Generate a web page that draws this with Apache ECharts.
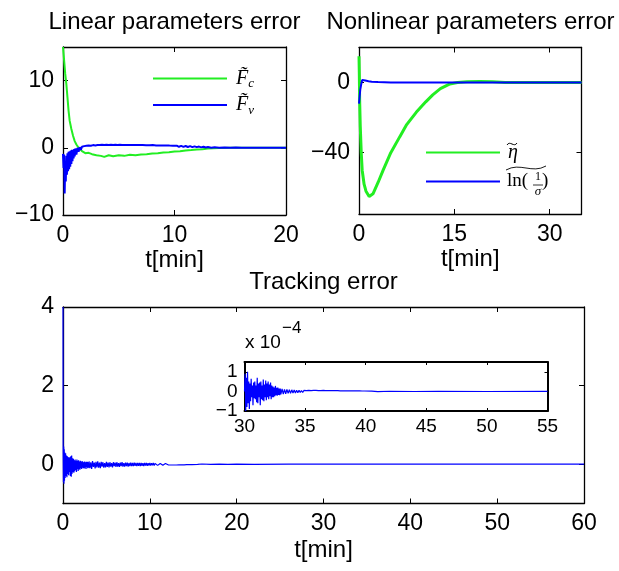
<!DOCTYPE html>
<html>
<head>
<meta charset="utf-8">
<script src="https://cdn.jsdelivr.net/npm/echarts@6.0.0/dist/echarts.min.js"></script>
<style>html,body{margin:0;padding:0;background:#fff}#c{width:619px;height:571px}</style>
</head>
<body>
<div id="c"></div>
<script>
// ---------- data ----------
const titles = ['Linear parameters error', 'Nonlinear parameters error', 'Tracking error'];
const xName = 't[min]';

// tick values
const tlXTicks = [0, 10, 20];
const tlYTicks = [-10, 0, 10];
const trXTicks = [0, 15, 30];
const trYTicks = [-40, 0];
const btXTicks = [0, 10, 20, 30, 40, 50, 60];
const btYTicks = [0, 2, 4];
const inXTicks = [30, 35, 40, 45, 50, 55];
const inYTicks = [-1, 0, 1];

// Linear parameters error: F~c (green)
const Fc = [[0,15],[0.1,13],[0.2,11],[0.3,9.5],[0.4,7.5],[0.5,5.5],[0.6,4],[0.75,2.8],[0.9,1.8],[1.05,1],[1.2,0.5],[1.4,0],
  [1.7,-0.5],[2,-0.8],[2.3,-0.75],[2.6,-0.95],[3,-1.1],[3.4,-1.2],[3.7,-1.35],[4.1,-1.1],[4.5,-1.25],[5,-1.1],[5.5,-1.2],
  [6,-1.05],[6.5,-1.1],[7,-1.0],[7.5,-0.95],[8,-0.85],[8.5,-0.8],[9,-0.7],[9.5,-0.65],[10,-0.55],[10.5,-0.5],[11,-0.4],
  [11.5,-0.33],[12,-0.25],[12.5,-0.2],[13,-0.12],[13.5,-0.08],[14,-0.03],[15,0],[17,0.02],[20,0]];
// F~v (blue)
const Fv = [[0,-0.9],[0.05,-3],[0.1,-1],[0.15,-6.8],[0.2,-2],[0.25,-5],[0.3,-1.2],[0.35,-4],[0.4,-0.8],[0.45,-3.5],
  [0.5,-0.6],[0.55,-3.2],[0.6,-0.5],[0.65,-2.8],[0.7,-0.4],[0.75,-2.4],[0.8,-0.3],[0.85,-2],[0.9,-0.3],[0.95,-1.6],
  [1,-0.2],[1.05,-1.3],[1.1,-0.1],[1.2,-1],[1.3,0],[1.4,-0.6],[1.5,0.1],[1.6,-0.3],[1.7,0.15],[1.8,-0.1],[1.9,0.25],
  [2,0.05],[2.1,0.3],[2.2,0.1],[2.3,0.35],[2.4,0.15],[2.5,0.3],[2.6,0.15],[2.7,0.4],[2.8,0.2],[2.9,0.35],[3,0.2],
  [3.1,0.4],[3.2,0.2],[3.3,0.4],[3.4,0.25],[3.5,0.45],[3.6,0.2],[3.7,0.42],[3.8,0.25],[3.9,0.45],[4,0.22],[4.1,0.42],
  [4.2,0.22],[4.3,0.45],[4.4,0.25],[4.5,0.4],[4.6,0.22],[4.7,0.45],[4.8,0.25],[4.9,0.42],[5,0.22],[5.1,0.45],[5.2,0.25],
  [5.3,0.4],[5.4,0.22],[5.5,0.42],[5.6,0.25],[5.7,0.42],[5.8,0.22],[5.9,0.4],[6,0.22],[6.1,0.42],[6.2,0.25],[6.3,0.4],
  [6.4,0.22],[6.5,0.4],[6.6,0.22],[6.7,0.42],[6.8,0.2],[6.9,0.4],[7,0.22],[7.15,0.4],[7.3,0.22],[7.45,0.38],[7.6,0.2],
  [7.75,0.38],[7.9,0.2],[8.05,0.4],[8.2,0.2],[8.35,0.35],[8.5,0.18],[8.65,0.36],[8.8,0.2],[8.95,0.34],[9.1,0.17],
  [9.25,0.35],[9.4,0.18],[9.55,0.33],[9.7,0.16],[9.85,0.32],[10,0.18],[10.2,0.32],[10.4,0.15],[10.6,0.28],[10.8,0.14],
  [11,0.27],[11.2,0.12],[11.4,0.25],[11.6,0.1],[11.8,0.22],[12,0.1],[12.2,0.18],[12.4,0.06],[12.6,0.16],[12.8,0.05],
  [13,0.12],[13.3,0.02],[13.6,0.08],[14,0.02],[14.5,0.06],[15,0],[15.5,0.04],[16,0],[17,0.02],[20,0]];

// Nonlinear parameters error: eta~ (green)
const eta = [[0,15],[0.05,5],[0.1,-10],[0.2,-25],[0.35,-40],[0.5,-50],[0.8,-58],[1.1,-62],[1.6,-65],[2.2,-63.5],
  [3,-57],[3.8,-50],[5,-40],[6.4,-31],[7.5,-24],[9,-17],[10.5,-11],[11.6,-7],[12.8,-3.5],[14.3,-0.8],[15.5,0],
  [17,0.4],[19,0.6],[21,0.4],[23,0.1],[25,0],[35,0]];
// ln(1/sigma)~ (blue)
const lnSig = [[0,-12],[0.1,-8],[0.2,-4],[0.35,-1],[0.5,1.5],[0.7,2],[1,1.2],[1.5,0.8],[2,0.5],[3,0.3],[4,0.2],
  [5,0.1],[7,0],[35,0]];

// Tracking error (main)
const track = [[0,4],[0.02,0.3],[0.05,-0.45],[0.08,0.45],[0.11,-0.5],[0.14,0.38],[0.17,-0.42],[0.2,0.3],[0.25,-0.35],
  [0.3,0.28],[0.35,-0.3],[0.4,0.22],[0.45,-0.33],[0.5,0.2],[0.55,-0.25],[0.6,0.18],[0.65,-0.28],[0.7,0.16],[0.75,-0.2],
  [0.8,0.18],[0.85,-0.3],[0.9,0.2],[0.95,-0.32],[1.0,0.22],[1.05,-0.24],[1.1,0.15],[1.15,-0.2],[1.2,0.14],[1.25,-0.22],
  [1.3,0.1],[1.35,-0.18],[1.4,0.12],[1.45,-0.15],[1.5,0.08],[1.55,-0.2],[1.6,0.12],[1.65,-0.12],[1.7,0.09],[1.75,-0.17],
  [1.8,0.1],[1.85,-0.13],[1.9,0.07],[1.95,-0.14],[2.0,0.09],[2.05,-0.1],[2.1,0.06],[2.15,-0.12],[2.2,0.08],[2.25,-0.09],
  [2.3,0.06],[2.35,-0.1],[2.4,0.05],[2.45,-0.11],[2.5,0.07],[2.55,-0.08],[2.6,0.05],[2.65,-0.12],[2.7,0.06],[2.75,-0.07],
  [2.8,0.06],[2.85,-0.1],[2.9,0.05],[2.95,-0.09],
  [3.0,0.07],[3.1,-0.1],[3.2,0.05],[3.3,-0.12],[3.4,0.08],[3.5,-0.07],[3.6,0.04],[3.7,-0.11],[3.8,0.06],[3.9,-0.08],
  [4.0,0.07],[4.1,-0.09],[4.2,0.04],[4.3,-0.1],[4.4,0.06],[4.5,-0.06],[4.6,0.05],[4.7,-0.09],[4.8,0.03],[4.9,-0.08],
  [5.0,0.06],[5.1,-0.07],[5.2,0.04],[5.3,-0.08],[5.4,0.05],[5.5,-0.06],[5.6,0.03],[5.7,-0.08],[5.8,0.05],[5.9,-0.05],
  [6.0,0.04],[6.1,-0.07],[6.2,0.05],[6.3,-0.06],[6.4,0.03],[6.5,-0.07],[6.6,0.04],[6.7,-0.05],[6.8,0.05],[6.9,-0.06],
  [7.0,0.03],[7.1,-0.06],[7.2,0.04],[7.3,-0.05],[7.4,0.04],[7.5,-0.06],[7.6,0.03],[7.7,-0.05],[7.8,0.04],[7.9,-0.05],
  [8.0,0.03],[8.1,-0.05],[8.2,0.04],[8.3,-0.04],[8.4,0.03],[8.5,-0.05],[8.6,0.03],[8.7,-0.04],[8.8,0.035],[8.9,-0.045],
  [9.0,0.03],[9.1,-0.04],[9.2,0.025],[9.3,-0.045],[9.4,0.03],[9.5,-0.035],[9.6,0.03],[9.7,-0.04],[9.8,0.025],[9.9,-0.035],
  [10.0,0.03],[10.1,-0.035],[10.2,0.025],[10.3,-0.03],[10.4,0.03],[10.5,-0.035],[10.6,0.02],[10.7,-0.03],
  [10.8,0.025],[10.9,-0.03],[11.0,0.02],[11.1,-0.03],[11.2,0.02],[11.3,-0.025],[11.4,0.02],[11.5,-0.025],
  [11.6,0.015],[11.7,-0.025],[11.8,0.02],[11.9,-0.02],[12,0.015],[12.15,-0.02],[12.3,0.015],[12.45,-0.02],
  [12.6,0.015],[12.75,-0.02],[12.9,0.01],[13.05,-0.02],[13.2,0.015],[13.35,-0.015],[13.5,0.01],[13.65,-0.015],
  [13.8,0.01],[13.95,-0.015],[14.1,0.01],[14.25,-0.012],[14.4,0.01],[14.55,-0.012],[14.7,0.008],[14.85,-0.012],
  [15,0.008],[15.5,-0.006],[16,0.005],[17,-0.004],[18,0.003],[19,-0.003],[20,0.002],[22,-0.002],[26,0.001],
  [30,0],[60,0]];

// Tracking error inset (units of 1e-4)
const inset = [[30,0],[30.05,0.9],[30.1,-1.0],[30.15,0.7],[30.2,-0.8],[30.25,1.0],[30.3,-0.6],[30.35,0.5],[30.4,-0.9],
  [30.45,0.4],[30.5,-0.5],[30.55,0.65],[30.6,-0.3],[30.65,0.3],[30.7,-0.7],[30.75,0.45],[30.8,-0.35],[30.85,0.5],
  [30.9,-0.4],[30.95,0.3],[31.0,-0.55],[31.05,0.7],[31.1,-0.6],[31.15,0.4],[31.2,-0.3],[31.25,0.45],[31.3,-0.7],
  [31.35,0.5],[31.4,-0.4],[31.45,0.3],[31.5,-0.45],[31.55,0.6],[31.6,-0.5],[31.65,0.35],[31.7,-0.3],[31.75,0.55],
  [31.8,-0.45],[31.85,0.4],[31.9,-0.3],[31.95,0.5],[32.0,-0.4],[32.05,0.35],[32.1,-0.25],[32.15,0.45],[32.2,-0.4],
  [32.25,0.3],[32.3,-0.3],[32.35,0.25],[32.4,-0.3],[32.45,0.2],[32.5,-0.25],[32.55,0.28],[32.6,-0.2],[32.65,0.18],
  [32.7,-0.22],[32.75,0.2],[32.8,-0.18],[32.85,0.15],[32.9,-0.2],[32.95,0.14],[33.0,-0.15],
  [33.1,0.13],[33.2,-0.14],[33.3,0.1],[33.4,-0.12],[33.5,0.1],[33.6,-0.1],[33.7,0.09],[33.8,-0.1],[33.9,0.08],
  [34.0,-0.08],[34.1,0.07],[34.2,-0.08],[34.3,0.06],[34.4,-0.07],[34.5,0.06],[34.6,-0.06],[34.7,0.05],[34.8,-0.06],
  [34.9,0.05],[35.0,-0.05],[35.1,0.04],[35.2,-0.05],[35.3,0.05],[35.4,-0.04],[35.5,0.04],[35.6,-0.05],[35.7,0.05],
  [35.8,-0.04],[35.9,0.05],[36.0,-0.05],[36.1,0.04],[36.2,-0.05],[36.3,0.04],[36.4,-0.04],[36.5,0.05],[36.6,-0.04],
  [36.7,0.04],[36.8,-0.05],[36.9,0.04],[37,-0.04],[37.1,0.04],[37.2,-0.04],[37.3,0.035],[37.4,-0.04],[37.5,0.04],
  [37.6,-0.035],[37.7,0.04],[37.8,-0.035],[37.9,0.03],[38,-0.035],[38.1,0.03],[38.2,-0.03],[38.3,0.03],[38.4,-0.03],
  [38.5,0.03],[38.6,-0.03],[38.7,0.03],[38.8,-0.03],[38.9,0.03],[39,-0.03],[39.1,0.025],[39.2,-0.03],[39.3,0.025],
  [39.4,-0.025],[39.5,0.025],[39.6,-0.025],[39.7,0.02],[39.8,-0.025],[39.9,0.02],[40,-0.02],
  [40.5,0.01],[41,-0.01],[42,0.008],[44,-0.006],[46,0.005],[50,-0.004],[55,0]];

// ---------- chart ----------
const FONT = "'Liberation Sans', Arial, sans-serif";
const SERIF = "'Liberation Serif', 'DejaVu Serif', serif";
const GREEN = '#22ee22', BLUE = '#0000ff';
const minus = v => String(v).replace('-', '\u2212');

function xAx(grid, min, max, ticks, pos, o) {
  return {
    type: 'value', gridIndex: grid, min: min, max: max, position: pos,
    axisLine: {show: true, onZero: false, lineStyle: {color: '#000', width: o.lw}},
    axisTick: {show: true, inside: true, length: o.tl, customValues: ticks, lineStyle: {color: '#000', width: 1}},
    axisLabel: {show: pos === 'bottom', customValues: ticks, formatter: minus, color: '#000',
      fontSize: o.fs, fontFamily: FONT, margin: o.margin},
    splitLine: {show: false},
    name: pos === 'bottom' && o.name ? o.name : '', nameLocation: 'middle', nameGap: o.gap,
    nameTextStyle: {color: '#000', fontSize: 24, fontFamily: FONT}
  };
}
function yAx(grid, min, max, ticks, pos, o) {
  return {
    type: 'value', gridIndex: grid, min: min, max: max, position: pos,
    axisLine: {show: true, onZero: false, lineStyle: {color: '#000', width: o.lw}},
    axisTick: {show: true, inside: true, length: o.tl, customValues: ticks, lineStyle: {color: '#000', width: 1}},
    axisLabel: {show: pos === 'left', customValues: ticks, formatter: minus, color: '#000',
      fontSize: o.fs, fontFamily: FONT, margin: o.margin},
    splitLine: {show: false}
  };
}
const mainX = {lw: 1.3, tl: 5, fs: 23, margin: 9, name: xName, gap: 33};
const mainY = {lw: 1.3, tl: 5, fs: 23, margin: 9};
const botX = {lw: 1.3, tl: 5, fs: 23, margin: 9, name: xName, gap: 35};
const inX = {lw: 2, tl: 3, fs: 19, margin: 6};
const inY = {lw: 2, tl: 3, fs: 19, margin: 7};

const xAxis = [
  xAx(0, 0, 20, tlXTicks, 'bottom', mainX), xAx(0, 0, 20, tlXTicks, 'top', mainX),
  xAx(1, 0, 35, trXTicks, 'bottom', mainX), xAx(1, 0, 35, trXTicks, 'top', mainX),
  xAx(2, 0, 60, btXTicks, 'bottom', botX), xAx(2, 0, 60, btXTicks, 'top', botX),
  xAx(3, 30, 55, inXTicks, 'bottom', inX), xAx(3, 30, 55, inXTicks, 'top', inX)
];
const yAxis = [
  yAx(0, -10, 15, tlYTicks, 'left', mainY), yAx(0, -10, 15, tlYTicks, 'right', mainY),
  yAx(1, -75, 20, trYTicks, 'left', mainY), yAx(1, -75, 20, trYTicks, 'right', mainY),
  yAx(2, -1, 4, btYTicks, 'left', mainY), yAx(2, -1, 4, btYTicks, 'right', mainY),
  yAx(3, -1, 1.5, inYTicks, 'left', inY), yAx(3, -1, 1.5, inYTicks, 'right', inY)
];

function ser(name, data, xi, yi, color, w, z) {
  return {name: name, type: 'line', data: data, xAxisIndex: xi, yAxisIndex: yi, showSymbol: false, symbol: 'none',
    lineStyle: {color: color, width: w}, itemStyle: {color: color}, animation: false, z: z || 2, silent: true};
}

const richBase = {
  F: {fontFamily: SERIF, fontStyle: 'italic', fontSize: 20, lineHeight: 24, padding: [0, 0, 0, 4]},
  s: {fontFamily: SERIF, fontStyle: 'italic', fontSize: 13, lineHeight: 14, verticalAlign: 'bottom'},
  e: {fontFamily: SERIF, fontStyle: 'italic', fontSize: 20, lineHeight: 24, padding: [0, 0, 0, 3]},
  n: {fontFamily: SERIF, fontSize: 19, lineHeight: 24, padding: [0, 0, 0, 2]},
  g: {fontFamily: SERIF, fontSize: 19, lineHeight: 24, width: 14},
  p: {fontFamily: SERIF, fontSize: 19, lineHeight: 24}
};
const labelText = {
  'Fc': '{F|F\u0303}{s|c}',
  'Fv': '{F|F\u0303}{s|v}',
  'eta': '{e|\u03b7}',
  'ln': '{n|ln(}{g| }{p|)}'
};

const chart = echarts.init(document.getElementById('c'), null, {renderer: 'canvas'});
chart.setOption({
  backgroundColor: '#fff',
  animation: false,
  grid: [
    {left: 63, top: 47, width: 223, height: 168},
    {left: 359, top: 47.5, width: 222.5, height: 166.5},
    {left: 63, top: 307, width: 521, height: 196.5},
    {left: 244.5, top: 362, width: 303, height: 49, show: true, backgroundColor: '#fff', borderWidth: 0}
  ],
  xAxis: xAxis,
  yAxis: yAxis,
  legend: [
    {data: ['Fc', 'Fv'], orient: 'vertical', left: 153, top: 68.5, itemWidth: 74, itemHeight: 2, itemGap: 4.4,
      icon: 'rect', padding: 0, formatter: n => labelText[n], textStyle: {color: '#000', rich: richBase},
      selectedMode: false},
    {data: ['eta', 'ln'], orient: 'vertical', left: 426, top: 142.5, itemWidth: 74, itemHeight: 2, itemGap: 9.4,
      icon: 'rect', padding: 0, formatter: n => labelText[n], textStyle: {color: '#000', rich: richBase},
      selectedMode: false}
  ],
  series: [
    ser('Fc', Fc, 0, 0, GREEN, 2),
    ser('Fv', Fv, 0, 0, BLUE, 2),
    ser('eta', eta, 2, 2, GREEN, 3),
    ser('ln', lnSig, 2, 2, BLUE, 2),
    ser('track', track, 4, 4, BLUE, 1.2),
    ser('inset', inset, 6, 6, BLUE, 1.2, 5)
  ],
  graphic: [
    {type: 'text', x: 174.5, y: 22, style: {text: titles[0], textAlign: 'center', textVerticalAlign: 'middle',
      fontSize: 24, fontFamily: FONT, fill: '#000'}},
    {type: 'text', x: 470.5, y: 22, style: {text: titles[1], textAlign: 'center', textVerticalAlign: 'middle',
      fontSize: 24, fontFamily: FONT, fill: '#000'}},
    {type: 'text', x: 323.5, y: 282, style: {text: titles[2], textAlign: 'center', textVerticalAlign: 'middle',
      fontSize: 24, fontFamily: FONT, fill: '#000'}},
    {type: 'text', x: 245, y: 343, style: {text: 'x 10', textAlign: 'left', textVerticalAlign: 'middle',
      fontSize: 19, fontFamily: FONT, fill: '#000'}},
    {type: 'text', x: 282, y: 328, style: {text: '\u22124', textAlign: 'left', textVerticalAlign: 'middle',
      fontSize: 17, fontFamily: FONT, fill: '#000'}},
    // tilde over eta
    {type: 'bezierCurve', z: 10, shape: {x1: 507, y1: 145, cpx1: 510, cpy1: 140, cpx2: 514, cpy2: 148, x2: 517, y2: 143},
      style: {stroke: '#000', lineWidth: 1, fill: null}},
    // fraction 1/sigma and wide tilde of ln legend label
    {type: 'text', x: 538, y: 177, style: {text: '1', textAlign: 'center', textVerticalAlign: 'middle',
      fontSize: 12, fontFamily: SERIF, fill: '#000'}},
    {type: 'line', shape: {x1: 533, y1: 185, x2: 543, y2: 185}, style: {stroke: '#000', lineWidth: 0.8}},
    {type: 'text', x: 538, y: 192, style: {text: '\u03c3', textAlign: 'center', textVerticalAlign: 'middle',
      fontSize: 13, fontStyle: 'italic', fontFamily: SERIF, fill: '#000'}},
    {type: 'bezierCurve', z: 10, shape: {x1: 506, y1: 170, cpx1: 520, cpy1: 162, cpx2: 532, cpy2: 174, x2: 546, y2: 166},
      style: {stroke: '#000', lineWidth: 0.9, fill: null}}
  ]
});
</script>
</body>
</html>
